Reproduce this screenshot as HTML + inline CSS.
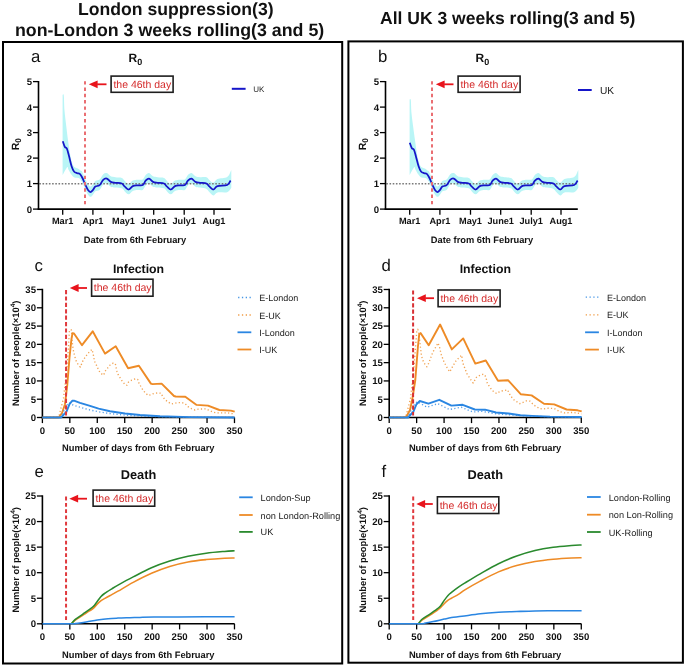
<!DOCTYPE html><html><head><meta charset="utf-8"><style>html,body{margin:0;padding:0;background:#fff;}svg{display:block;will-change:transform;}text{font-family:"Liberation Sans",sans-serif;}</style></head><body>
<svg width="685" height="666" viewBox="0 0 685 666" text-rendering="geometricPrecision">
<rect width="685" height="666" fill="#fff"/>
<text x="78.1" y="15" font-size="17.6" font-weight="bold" text-anchor="start" fill="#111">London suppression(3)</text>
<text x="15" y="35.7" font-size="17.8" font-weight="bold" text-anchor="start" fill="#111">non-London 3 weeks rolling(3 and 5)</text>
<text x="380" y="24.2" font-size="17.55" font-weight="bold" text-anchor="start" fill="#111">All UK 3 weeks rolling(3 and 5)</text>
<rect x="3" y="42" width="339.2" height="621.5" fill="none" stroke="#000" stroke-width="2"/>
<rect x="348.4" y="41.4" width="334.5" height="621.3" fill="none" stroke="#000" stroke-width="2"/>
<text x="31" y="62.3" font-size="16.8" font-weight="normal" text-anchor="start" fill="#111">a</text>
<text x="128.6" y="61.9" font-size="12" font-weight="bold" fill="#111">R<tspan font-size="9" dy="2.6">0</tspan></text>
<path d="M62.6,95  C62.8,95.1 63.48,93.02 63.8,95.6 C64.12,98.18 64.08,105.37 64.5,110.5 C64.92,115.63 65.73,121.55 66.3,126.4 C66.87,131.25 67.35,135.47 67.9,139.6 C68.45,143.73 69.05,147.9 69.6,151.2 C70.15,154.5 70.52,156.87 71.2,159.4 C71.88,161.93 72.6,164.88 73.7,166.4 C74.8,167.92 76.67,167.8 77.8,168.5 C78.93,169.2 79.77,170.03 80.5,170.6 C81.23,171.17 81.37,170.43 82.2,171.9 C83.03,173.37 84.53,177.33 85.5,179.4 C86.47,181.47 87.17,183.13 88,184.3 C88.83,185.47 89.67,186.4 90.5,186.4 C91.33,186.4 92.18,185.22 93,184.3 C93.82,183.38 94.3,181.68 95.4,180.9 C96.5,180.12 98.3,180.72 99.6,179.6 C100.9,178.48 102,175.3 103.2,174.2 C104.4,173.1 105.53,172.65 106.8,173 C108.07,173.35 109.37,175.6 110.8,176.3 C112.23,177 113.57,176.93 115.4,177.2 C117.23,177.47 120.27,177.3 121.8,177.9 C123.33,178.5 123.47,179.8 124.6,180.8 C125.73,181.8 127.23,183.95 128.6,183.9 C129.97,183.85 131.27,181.2 132.8,180.5 C134.33,179.8 136.15,179.87 137.8,179.7 C139.45,179.53 141.38,180.28 142.7,179.5 C144.02,178.72 144.65,176.08 145.7,175 C146.75,173.92 147.78,172.78 149,173 C150.22,173.22 151.57,175.6 153,176.3 C154.43,177 155.77,176.93 157.6,177.2 C159.43,177.47 162.47,177.3 164,177.9 C165.53,178.5 165.67,179.8 166.8,180.8 C167.93,181.8 169.43,183.95 170.8,183.9 C172.17,183.85 173.47,181.2 175,180.5 C176.53,179.8 178.35,179.87 180,179.7 C181.65,179.53 183.58,180.28 184.9,179.5 C186.22,178.72 186.8,176.08 187.9,175 C189,173.92 190.23,172.78 191.5,173 C192.77,173.22 194.07,175.6 195.5,176.3 C196.93,177 198.27,177.02 200.1,177.19 C201.93,177.36 204.97,176.85 206.5,177.31 C208.03,177.78 208.17,179.06 209.3,179.96 C210.43,180.86 211.93,182.88 213.3,182.7 C214.67,182.53 215.18,179.88 217.5,178.92 C219.82,177.97 224.9,178.44 227.2,176.95 C229.5,175.46 230.62,171.16 231.3,170 L231.3,187.8 C230.62,188.54 229.5,191.47 227.2,192.25 C224.9,193.03 219.82,191.93 217.5,192.47 C215.18,193.02 214.67,195.57 213.3,195.5 C211.93,195.42 210.43,193.14 209.3,192.04 C208.17,190.94 208.03,189.62 206.5,188.88 C204.97,188.15 201.93,187.97 200.1,187.61 C198.27,187.24 196.93,187.4 195.5,186.7 C194.07,186 192.77,183.62 191.5,183.4 C190.23,183.18 189,184.32 187.9,185.4 C186.8,186.48 186.22,189.12 184.9,189.9 C183.58,190.68 181.65,189.93 180,190.1 C178.35,190.27 176.53,190.2 175,190.9 C173.47,191.6 172.17,194.25 170.8,194.3 C169.43,194.35 167.93,192.2 166.8,191.2 C165.67,190.2 165.53,188.9 164,188.3 C162.47,187.7 159.43,187.87 157.6,187.6 C155.77,187.33 154.43,187.4 153,186.7 C151.57,186 150.22,183.62 149,183.4 C147.78,183.18 146.75,184.32 145.7,185.4 C144.65,186.48 144.02,189.12 142.7,189.9 C141.38,190.68 139.45,189.93 137.8,190.1 C136.15,190.27 134.33,190.2 132.8,190.9 C131.27,191.6 129.97,194.25 128.6,194.3 C127.23,194.35 125.73,192.2 124.6,191.2 C123.47,190.2 123.33,188.9 121.8,188.3 C120.27,187.7 117.23,187.87 115.4,187.6 C113.57,187.33 112.23,187.4 110.8,186.7 C109.37,186 108.07,183.75 106.8,183.4 C105.53,183.05 104.4,183.5 103.2,184.6 C102,185.7 100.9,188.88 99.6,190 C98.3,191.12 96.5,190.52 95.4,191.3 C94.3,192.08 93.82,193.78 93,194.7 C92.18,195.62 91.33,196.8 90.5,196.8 C89.67,196.8 88.83,195.87 88,194.7 C87.17,193.53 86.47,191.87 85.5,189.8 C84.53,187.73 82.92,183.77 82.2,182.3 C81.48,180.83 81.65,181.65 81.2,181 C80.75,180.35 80.62,178.97 79.5,178.4 C78.38,177.83 75.88,178.28 74.5,177.6 C73.12,176.92 72.22,175.65 71.2,174.3 C70.18,172.95 69.07,170.68 68.4,169.5 C67.73,168.32 68.17,166.27 67.2,167.2 C66.23,168.13 63.37,173.78 62.6,175.1 Z" fill="#b9f5f6"/>
<line x1="39.3" y1="183.8" x2="230.8" y2="183.8" stroke="#7a7a7a" stroke-width="1.5" stroke-dasharray="1.6 1.6"/>
<path d="M62.8,141.2 C63.15,142.17 64.22,145.77 64.9,147 C65.58,148.23 66.22,147.1 66.9,148.6 C67.58,150.1 68.23,153.1 69,156 C69.77,158.9 70.67,163.42 71.5,166 C72.33,168.58 73.03,170.3 74,171.5 C74.97,172.7 76.33,172.8 77.3,173.2 C78.27,173.6 78.98,173.18 79.8,173.9 C80.62,174.62 81.25,175.65 82.2,177.5 C83.15,179.35 84.53,182.93 85.5,185 C86.47,187.07 87.17,188.73 88,189.9 C88.83,191.07 89.67,192 90.5,192 C91.33,192 92.18,190.82 93,189.9 C93.82,188.98 94.3,187.28 95.4,186.5 C96.5,185.72 98.3,186.32 99.6,185.2 C100.9,184.08 102,180.9 103.2,179.8 C104.4,178.7 105.53,178.25 106.8,178.6 C108.07,178.95 109.37,181.2 110.8,181.9 C112.23,182.6 113.57,182.53 115.4,182.8 C117.23,183.07 120.27,182.9 121.8,183.5 C123.33,184.1 123.47,185.4 124.6,186.4 C125.73,187.4 127.23,189.55 128.6,189.5 C129.97,189.45 131.27,186.8 132.8,186.1 C134.33,185.4 136.15,185.47 137.8,185.3 C139.45,185.13 141.38,185.88 142.7,185.1 C144.02,184.32 144.65,181.68 145.7,180.6 C146.75,179.52 147.78,178.38 149,178.6 C150.22,178.82 151.57,181.2 153,181.9 C154.43,182.6 155.77,182.53 157.6,182.8 C159.43,183.07 162.47,182.9 164,183.5 C165.53,184.1 165.67,185.4 166.8,186.4 C167.93,187.4 169.43,189.55 170.8,189.5 C172.17,189.45 173.47,186.8 175,186.1 C176.53,185.4 178.35,185.47 180,185.3 C181.65,185.13 183.58,185.88 184.9,185.1 C186.22,184.32 186.8,181.68 187.9,180.6 C189,179.52 190.23,178.38 191.5,178.6 C192.77,178.82 194.07,181.2 195.5,181.9 C196.93,182.6 198.27,182.53 200.1,182.8 C201.93,183.07 204.97,182.9 206.5,183.5 C208.03,184.1 208.17,185.4 209.3,186.4 C210.43,187.4 211.93,189.55 213.3,189.5 C214.67,189.45 215.18,186.85 217.5,186.1 C219.82,185.35 225.02,185.95 227.2,185 C229.38,184.05 230.03,181.17 230.6,180.4" fill="none" stroke="#1515c9" stroke-width="1.75" stroke-linejoin="round"/>
<line x1="38.5" y1="81" x2="38.5" y2="209.9" stroke="#000" stroke-width="1.6"/>
<line x1="33" y1="209.1" x2="38.5" y2="209.1" stroke="#000" stroke-width="1.3"/>
<text x="32.1" y="212.5" font-size="9.6" font-weight="bold" text-anchor="end" fill="#111">0</text>
<line x1="33" y1="183.6" x2="38.5" y2="183.6" stroke="#000" stroke-width="1.3"/>
<text x="32.1" y="187" font-size="9.6" font-weight="bold" text-anchor="end" fill="#111">1</text>
<line x1="33" y1="158.1" x2="38.5" y2="158.1" stroke="#000" stroke-width="1.3"/>
<text x="32.1" y="161.5" font-size="9.6" font-weight="bold" text-anchor="end" fill="#111">2</text>
<line x1="33" y1="132.6" x2="38.5" y2="132.6" stroke="#000" stroke-width="1.3"/>
<text x="32.1" y="136" font-size="9.6" font-weight="bold" text-anchor="end" fill="#111">3</text>
<line x1="33" y1="107.1" x2="38.5" y2="107.1" stroke="#000" stroke-width="1.3"/>
<text x="32.1" y="110.5" font-size="9.6" font-weight="bold" text-anchor="end" fill="#111">4</text>
<line x1="33" y1="81.6" x2="38.5" y2="81.6" stroke="#000" stroke-width="1.3"/>
<text x="32.1" y="85" font-size="9.6" font-weight="bold" text-anchor="end" fill="#111">5</text>
<line x1="37.7" y1="209.1" x2="230.8" y2="209.1" stroke="#000" stroke-width="1.6"/>
<line x1="62.7" y1="209.1" x2="62.7" y2="214.7" stroke="#000" stroke-width="1.3"/>
<text x="62.7" y="224.2" font-size="9.2" font-weight="bold" text-anchor="middle" fill="#111">Mar1</text>
<line x1="92.9" y1="209.1" x2="92.9" y2="214.7" stroke="#000" stroke-width="1.3"/>
<text x="92.9" y="224.2" font-size="9.2" font-weight="bold" text-anchor="middle" fill="#111">Apr1</text>
<line x1="123.5" y1="209.1" x2="123.5" y2="214.7" stroke="#000" stroke-width="1.3"/>
<text x="123.5" y="224.2" font-size="9.2" font-weight="bold" text-anchor="middle" fill="#111">May1</text>
<line x1="153.7" y1="209.1" x2="153.7" y2="214.7" stroke="#000" stroke-width="1.3"/>
<text x="153.7" y="224.2" font-size="9.2" font-weight="bold" text-anchor="middle" fill="#111">June1</text>
<line x1="184.2" y1="209.1" x2="184.2" y2="214.7" stroke="#000" stroke-width="1.3"/>
<text x="184.2" y="224.2" font-size="9.2" font-weight="bold" text-anchor="middle" fill="#111">July1</text>
<line x1="214" y1="209.1" x2="214" y2="214.7" stroke="#000" stroke-width="1.3"/>
<text x="214" y="224.2" font-size="9.2" font-weight="bold" text-anchor="middle" fill="#111">Aug1</text>
<text x="135" y="243.2" font-size="9.3" font-weight="bold" text-anchor="middle" fill="#111">Date from 6th February</text>
<text transform="translate(19.2,144.2) rotate(-90)" font-size="10.5" font-weight="bold" text-anchor="middle" fill="#111">R<tspan font-size="8.3" dy="1.3">0</tspan></text>
<line x1="85" y1="81.2" x2="85" y2="206.5" stroke="#ea6e72" stroke-width="2" stroke-dasharray="3.4 2.9"/>
<path d="M88.8,84.3 L97.6,80.4 L97.6,88.2 Z" fill="#e8141c"/>
<line x1="97.1" y1="84.3" x2="106.5" y2="84.3" stroke="#e8141c" stroke-width="1.8"/>
<rect x="111.1" y="76.1" width="62" height="16.2" fill="#fff" stroke="#1e1e1e" stroke-width="1.6"/>
<text x="113.4" y="87.9" font-size="10.5" font-weight="normal" text-anchor="start" fill="#d42a2a">the 46th day</text>
<line x1="231.8" y1="88.8" x2="245.6" y2="88.8" stroke="#1515c9" stroke-width="2"/>
<text x="253.3" y="91.8" font-size="8" font-weight="normal" text-anchor="start" fill="#222">UK</text>
<text x="378" y="62.3" font-size="16.8" font-weight="normal" text-anchor="start" fill="#111">b</text>
<text x="475.6" y="61.9" font-size="12" font-weight="bold" fill="#111">R<tspan font-size="9" dy="2.6">0</tspan></text>
<path d="M409.6,99.5  C409.8,99.6 410.48,97.82 410.8,100.1 C411.12,102.38 411.08,108.59 411.5,113.2 C411.92,117.81 412.73,123.35 413.3,127.75 C413.87,132.15 414.35,135.69 414.9,139.6 C415.45,143.51 416.05,147.9 416.6,151.2 C417.15,154.5 417.52,156.87 418.2,159.4 C418.88,161.93 419.6,164.88 420.7,166.4 C421.8,167.92 423.67,167.8 424.8,168.5 C425.93,169.2 426.77,170.03 427.5,170.6 C428.23,171.17 428.37,170.43 429.2,171.9 C430.03,173.37 431.53,177.33 432.5,179.4 C433.47,181.47 434.17,183.13 435,184.3 C435.83,185.47 436.67,186.4 437.5,186.4 C438.33,186.4 439.18,185.22 440,184.3 C440.82,183.38 441.3,181.68 442.4,180.9 C443.5,180.12 445.3,180.72 446.6,179.6 C447.9,178.48 449,175.3 450.2,174.2 C451.4,173.1 452.53,172.65 453.8,173 C455.07,173.35 456.37,175.6 457.8,176.3 C459.23,177 460.57,176.93 462.4,177.2 C464.23,177.47 467.27,177.3 468.8,177.9 C470.33,178.5 470.47,179.8 471.6,180.8 C472.73,181.8 474.23,183.95 475.6,183.9 C476.97,183.85 478.27,181.2 479.8,180.5 C481.33,179.8 483.15,179.87 484.8,179.7 C486.45,179.53 488.38,180.28 489.7,179.5 C491.02,178.72 491.65,176.08 492.7,175 C493.75,173.92 494.78,172.78 496,173 C497.22,173.22 498.57,175.6 500,176.3 C501.43,177 502.77,176.93 504.6,177.2 C506.43,177.47 509.47,177.3 511,177.9 C512.53,178.5 512.67,179.8 513.8,180.8 C514.93,181.8 516.43,183.95 517.8,183.9 C519.17,183.85 520.47,181.2 522,180.5 C523.53,179.8 525.35,179.87 527,179.7 C528.65,179.53 530.58,180.28 531.9,179.5 C533.22,178.72 533.8,176.08 534.9,175 C536,173.92 537.23,172.78 538.5,173 C539.77,173.22 541.07,175.6 542.5,176.3 C543.93,177 545.27,177.02 547.1,177.19 C548.93,177.36 551.97,176.85 553.5,177.31 C555.03,177.78 555.17,179.06 556.3,179.96 C557.43,180.86 558.93,182.88 560.3,182.7 C561.67,182.53 562.18,179.88 564.5,178.92 C566.82,177.97 571.9,178.44 574.2,176.95 C576.5,175.46 577.62,171.16 578.3,170 L578.3,187.8 C577.62,188.54 576.5,191.47 574.2,192.25 C571.9,193.03 566.82,191.93 564.5,192.47 C562.18,193.02 561.67,195.57 560.3,195.5 C558.93,195.42 557.43,193.14 556.3,192.04 C555.17,190.94 555.03,189.62 553.5,188.88 C551.97,188.15 548.93,187.97 547.1,187.61 C545.27,187.24 543.93,187.4 542.5,186.7 C541.07,186 539.77,183.62 538.5,183.4 C537.23,183.18 536,184.32 534.9,185.4 C533.8,186.48 533.22,189.12 531.9,189.9 C530.58,190.68 528.65,189.93 527,190.1 C525.35,190.27 523.53,190.2 522,190.9 C520.47,191.6 519.17,194.25 517.8,194.3 C516.43,194.35 514.93,192.2 513.8,191.2 C512.67,190.2 512.53,188.9 511,188.3 C509.47,187.7 506.43,187.87 504.6,187.6 C502.77,187.33 501.43,187.4 500,186.7 C498.57,186 497.22,183.62 496,183.4 C494.78,183.18 493.75,184.32 492.7,185.4 C491.65,186.48 491.02,189.12 489.7,189.9 C488.38,190.68 486.45,189.93 484.8,190.1 C483.15,190.27 481.33,190.2 479.8,190.9 C478.27,191.6 476.97,194.25 475.6,194.3 C474.23,194.35 472.73,192.2 471.6,191.2 C470.47,190.2 470.33,188.9 468.8,188.3 C467.27,187.7 464.23,187.87 462.4,187.6 C460.57,187.33 459.23,187.4 457.8,186.7 C456.37,186 455.07,183.75 453.8,183.4 C452.53,183.05 451.4,183.5 450.2,184.6 C449,185.7 447.9,188.88 446.6,190 C445.3,191.12 443.5,190.52 442.4,191.3 C441.3,192.08 440.82,193.78 440,194.7 C439.18,195.62 438.33,196.8 437.5,196.8 C436.67,196.8 435.83,195.87 435,194.7 C434.17,193.53 433.47,191.87 432.5,189.8 C431.53,187.73 429.92,183.77 429.2,182.3 C428.48,180.83 428.65,181.65 428.2,181 C427.75,180.35 427.62,178.97 426.5,178.4 C425.38,177.83 422.88,178.28 421.5,177.6 C420.12,176.92 419.22,175.65 418.2,174.3 C417.18,172.95 416.07,170.68 415.4,169.5 C414.73,168.32 415.17,166.27 414.2,167.2 C413.23,168.13 410.37,173.78 409.6,175.1 Z" fill="#b9f5f6"/>
<line x1="386.3" y1="183.8" x2="577.8" y2="183.8" stroke="#7a7a7a" stroke-width="1.5" stroke-dasharray="1.6 1.6"/>
<path d="M409.8,142.8 C410.15,143.71 411.22,147.15 411.9,148.28 C412.58,149.41 413.22,148.17 413.9,149.56 C414.58,150.95 415.23,153.9 416,156.64 C416.77,159.38 417.67,163.52 418.5,166 C419.33,168.48 420.03,170.3 421,171.5 C421.97,172.7 423.33,172.8 424.3,173.2 C425.27,173.6 425.98,173.18 426.8,173.9 C427.62,174.62 428.25,175.65 429.2,177.5 C430.15,179.35 431.53,182.93 432.5,185 C433.47,187.07 434.17,188.73 435,189.9 C435.83,191.07 436.67,192 437.5,192 C438.33,192 439.18,190.82 440,189.9 C440.82,188.98 441.3,187.28 442.4,186.5 C443.5,185.72 445.3,186.32 446.6,185.2 C447.9,184.08 449,180.9 450.2,179.8 C451.4,178.7 452.53,178.25 453.8,178.6 C455.07,178.95 456.37,181.2 457.8,181.9 C459.23,182.6 460.57,182.53 462.4,182.8 C464.23,183.07 467.27,182.9 468.8,183.5 C470.33,184.1 470.47,185.4 471.6,186.4 C472.73,187.4 474.23,189.55 475.6,189.5 C476.97,189.45 478.27,186.8 479.8,186.1 C481.33,185.4 483.15,185.47 484.8,185.3 C486.45,185.13 488.38,185.88 489.7,185.1 C491.02,184.32 491.65,181.68 492.7,180.6 C493.75,179.52 494.78,178.38 496,178.6 C497.22,178.82 498.57,181.2 500,181.9 C501.43,182.6 502.77,182.53 504.6,182.8 C506.43,183.07 509.47,182.9 511,183.5 C512.53,184.1 512.67,185.4 513.8,186.4 C514.93,187.4 516.43,189.55 517.8,189.5 C519.17,189.45 520.47,186.8 522,186.1 C523.53,185.4 525.35,185.47 527,185.3 C528.65,185.13 530.58,185.88 531.9,185.1 C533.22,184.32 533.8,181.68 534.9,180.6 C536,179.52 537.23,178.38 538.5,178.6 C539.77,178.82 541.07,181.2 542.5,181.9 C543.93,182.6 545.27,182.53 547.1,182.8 C548.93,183.07 551.97,182.9 553.5,183.5 C555.03,184.1 555.17,185.4 556.3,186.4 C557.43,187.4 558.93,189.55 560.3,189.5 C561.67,189.45 562.18,186.85 564.5,186.1 C566.82,185.35 572.02,185.95 574.2,185 C576.38,184.05 577.03,181.17 577.6,180.4" fill="none" stroke="#1515c9" stroke-width="1.75" stroke-linejoin="round"/>
<line x1="385.5" y1="81" x2="385.5" y2="209.9" stroke="#000" stroke-width="1.6"/>
<line x1="380" y1="209.1" x2="385.5" y2="209.1" stroke="#000" stroke-width="1.3"/>
<text x="379.1" y="212.5" font-size="9.6" font-weight="bold" text-anchor="end" fill="#111">0</text>
<line x1="380" y1="183.6" x2="385.5" y2="183.6" stroke="#000" stroke-width="1.3"/>
<text x="379.1" y="187" font-size="9.6" font-weight="bold" text-anchor="end" fill="#111">1</text>
<line x1="380" y1="158.1" x2="385.5" y2="158.1" stroke="#000" stroke-width="1.3"/>
<text x="379.1" y="161.5" font-size="9.6" font-weight="bold" text-anchor="end" fill="#111">2</text>
<line x1="380" y1="132.6" x2="385.5" y2="132.6" stroke="#000" stroke-width="1.3"/>
<text x="379.1" y="136" font-size="9.6" font-weight="bold" text-anchor="end" fill="#111">3</text>
<line x1="380" y1="107.1" x2="385.5" y2="107.1" stroke="#000" stroke-width="1.3"/>
<text x="379.1" y="110.5" font-size="9.6" font-weight="bold" text-anchor="end" fill="#111">4</text>
<line x1="380" y1="81.6" x2="385.5" y2="81.6" stroke="#000" stroke-width="1.3"/>
<text x="379.1" y="85" font-size="9.6" font-weight="bold" text-anchor="end" fill="#111">5</text>
<line x1="384.7" y1="209.1" x2="577.8" y2="209.1" stroke="#000" stroke-width="1.6"/>
<line x1="409.7" y1="209.1" x2="409.7" y2="214.7" stroke="#000" stroke-width="1.3"/>
<text x="409.7" y="224.2" font-size="9.2" font-weight="bold" text-anchor="middle" fill="#111">Mar1</text>
<line x1="439.9" y1="209.1" x2="439.9" y2="214.7" stroke="#000" stroke-width="1.3"/>
<text x="439.9" y="224.2" font-size="9.2" font-weight="bold" text-anchor="middle" fill="#111">Apr1</text>
<line x1="470.5" y1="209.1" x2="470.5" y2="214.7" stroke="#000" stroke-width="1.3"/>
<text x="470.5" y="224.2" font-size="9.2" font-weight="bold" text-anchor="middle" fill="#111">May1</text>
<line x1="500.7" y1="209.1" x2="500.7" y2="214.7" stroke="#000" stroke-width="1.3"/>
<text x="500.7" y="224.2" font-size="9.2" font-weight="bold" text-anchor="middle" fill="#111">June1</text>
<line x1="531.2" y1="209.1" x2="531.2" y2="214.7" stroke="#000" stroke-width="1.3"/>
<text x="531.2" y="224.2" font-size="9.2" font-weight="bold" text-anchor="middle" fill="#111">July1</text>
<line x1="561" y1="209.1" x2="561" y2="214.7" stroke="#000" stroke-width="1.3"/>
<text x="561" y="224.2" font-size="9.2" font-weight="bold" text-anchor="middle" fill="#111">Aug1</text>
<text x="482" y="243.2" font-size="9.3" font-weight="bold" text-anchor="middle" fill="#111">Date from 6th February</text>
<text transform="translate(366.2,144.2) rotate(-90)" font-size="10.5" font-weight="bold" text-anchor="middle" fill="#111">R<tspan font-size="8.3" dy="1.3">0</tspan></text>
<line x1="432" y1="81.2" x2="432" y2="206.5" stroke="#ea6e72" stroke-width="2" stroke-dasharray="3.4 2.9"/>
<path d="M435.8,84.3 L444.6,80.4 L444.6,88.2 Z" fill="#e8141c"/>
<line x1="444.1" y1="84.3" x2="453.5" y2="84.3" stroke="#e8141c" stroke-width="1.8"/>
<rect x="458.1" y="76.1" width="62" height="16.2" fill="#fff" stroke="#1e1e1e" stroke-width="1.6"/>
<text x="460.4" y="87.9" font-size="10.5" font-weight="normal" text-anchor="start" fill="#d42a2a">the 46th day</text>
<line x1="578" y1="90" x2="591.7" y2="90" stroke="#1515c9" stroke-width="2"/>
<text x="600" y="93.5" font-size="10.2" font-weight="normal" text-anchor="start" fill="#222">UK</text>
<text x="34.6" y="271" font-size="16.8" font-weight="normal" text-anchor="start" fill="#111">c</text>
<text x="138.5" y="273.1" font-size="12.3" font-weight="bold" text-anchor="middle" fill="#111">Infection</text>
<line x1="42.4" y1="288.8" x2="42.4" y2="418.3" stroke="#000" stroke-width="1.6"/>
<line x1="36.9" y1="417.5" x2="42.4" y2="417.5" stroke="#000" stroke-width="1.3"/>
<text x="36" y="420.9" font-size="9.6" font-weight="bold" text-anchor="end" fill="#111">0</text>
<line x1="36.9" y1="399.21" x2="42.4" y2="399.21" stroke="#000" stroke-width="1.3"/>
<text x="36" y="402.61" font-size="9.6" font-weight="bold" text-anchor="end" fill="#111">5</text>
<line x1="36.9" y1="380.93" x2="42.4" y2="380.93" stroke="#000" stroke-width="1.3"/>
<text x="36" y="384.33" font-size="9.6" font-weight="bold" text-anchor="end" fill="#111">10</text>
<line x1="36.9" y1="362.64" x2="42.4" y2="362.64" stroke="#000" stroke-width="1.3"/>
<text x="36" y="366.04" font-size="9.6" font-weight="bold" text-anchor="end" fill="#111">15</text>
<line x1="36.9" y1="344.36" x2="42.4" y2="344.36" stroke="#000" stroke-width="1.3"/>
<text x="36" y="347.76" font-size="9.6" font-weight="bold" text-anchor="end" fill="#111">20</text>
<line x1="36.9" y1="326.07" x2="42.4" y2="326.07" stroke="#000" stroke-width="1.3"/>
<text x="36" y="329.47" font-size="9.6" font-weight="bold" text-anchor="end" fill="#111">25</text>
<line x1="36.9" y1="307.79" x2="42.4" y2="307.79" stroke="#000" stroke-width="1.3"/>
<text x="36" y="311.19" font-size="9.6" font-weight="bold" text-anchor="end" fill="#111">30</text>
<line x1="36.9" y1="289.5" x2="42.4" y2="289.5" stroke="#000" stroke-width="1.3"/>
<text x="36" y="292.9" font-size="9.6" font-weight="bold" text-anchor="end" fill="#111">35</text>
<line x1="41.6" y1="417.5" x2="234.6" y2="417.5" stroke="#000" stroke-width="1.6"/>
<line x1="42.4" y1="417.5" x2="42.4" y2="423.1" stroke="#000" stroke-width="1.3"/>
<text x="42.4" y="433.9" font-size="9.6" font-weight="bold" text-anchor="middle" fill="#111">0</text>
<line x1="69.84" y1="417.5" x2="69.84" y2="423.1" stroke="#000" stroke-width="1.3"/>
<text x="69.84" y="433.9" font-size="9.6" font-weight="bold" text-anchor="middle" fill="#111">50</text>
<line x1="97.28" y1="417.5" x2="97.28" y2="423.1" stroke="#000" stroke-width="1.3"/>
<text x="97.28" y="433.9" font-size="9.6" font-weight="bold" text-anchor="middle" fill="#111">100</text>
<line x1="124.72" y1="417.5" x2="124.72" y2="423.1" stroke="#000" stroke-width="1.3"/>
<text x="124.72" y="433.9" font-size="9.6" font-weight="bold" text-anchor="middle" fill="#111">150</text>
<line x1="152.16" y1="417.5" x2="152.16" y2="423.1" stroke="#000" stroke-width="1.3"/>
<text x="152.16" y="433.9" font-size="9.6" font-weight="bold" text-anchor="middle" fill="#111">200</text>
<line x1="179.6" y1="417.5" x2="179.6" y2="423.1" stroke="#000" stroke-width="1.3"/>
<text x="179.6" y="433.9" font-size="9.6" font-weight="bold" text-anchor="middle" fill="#111">250</text>
<line x1="207.04" y1="417.5" x2="207.04" y2="423.1" stroke="#000" stroke-width="1.3"/>
<text x="207.04" y="433.9" font-size="9.6" font-weight="bold" text-anchor="middle" fill="#111">300</text>
<line x1="234.48" y1="417.5" x2="234.48" y2="423.1" stroke="#000" stroke-width="1.3"/>
<text x="234.48" y="433.9" font-size="9.6" font-weight="bold" text-anchor="middle" fill="#111">350</text>
<text x="138.3" y="451.4" font-size="9.3" font-weight="bold" text-anchor="middle" fill="#111">Number of days from 6th February</text>
<text transform="translate(19.3,353.3) rotate(-90)" font-size="9.4" font-weight="bold" text-anchor="middle" fill="#111">Number of people(×10<tspan font-size="6.6" dy="-4.0">4</tspan><tspan dy="4.0">)</tspan></text>
<path d="M42.5,417.5 L56,417.5 L59,416.2 L63.5,398.2 L66.5,372.6 L68.3,350 L69.5,330 L71.5,330 L72.5,344.8 L73.7,352.3 L75.8,360.1 L77.4,363.4 L80.3,367.1 L83.2,360.1 L87.8,353.5 L91.9,349.4 L93.1,353.5 L94.4,361 L96,364.3 L99.3,371.3 L102.1,374.3 L103.7,375.1 L105,371.4 L109.9,365.2 L113.2,363.1 L115.3,363.6 L116.9,371.2 L118.2,374.7 L122.3,381.3 L124.8,384.2 L126.9,385.3 L128.5,382.1 L131.8,380.1 L135.5,378.7 L137.7,379.4 L138.9,383.1 L143,390.2 L145.5,393.1 L148.4,395.5 L150.9,394.7 L153.8,393.5 L157.7,392.9 L161.2,393.2 L162.6,396.4 L165.1,399.7 L168.2,402.1 L171.4,404 L174.4,403.4 L178.1,402.6 L181.9,402.6 L185.3,403.8 L187.9,406.6 L191.4,408.6 L194.9,410 L198.4,409.1 L206.1,408.8 L209.3,410.6 L212.8,411.9 L216.3,412.9 L228,412.9 L231.7,413.5 L234.6,413.8" fill="none" stroke="#ee8b26" stroke-width="1.35" stroke-linejoin="round" stroke-dasharray="1.2 2.3" opacity="0.8"/>
<path d="M42.5,417.5 L57,417.5 L59,417.2 L62,413 L65,404.2 L67.3,384.7 L69.5,357.6 L71.4,339.5 L72.5,333.2 L74,333.5 L82,345.2 L92.7,331.3 L105,353.6 L115.7,346.3 L128.1,368.3 L138.9,365.8 L150.9,383.6 L152.5,384.1 L161.6,383.6 L174,396 L175.7,396.5 L185.3,396.8 L196.6,404.9 L208,405.6 L219.4,410 L230.8,410.6 L234.7,411.7" fill="none" stroke="#ee8b26" stroke-width="1.9" stroke-linejoin="round"/>
<path d="M42.5,417.5 L60,417.3 L62,414.7 L66.5,405.7 L68.8,402.7 L74,405.5 L90,410 L98.6,411.8 L110,413.6 L130,415.6 L160,416.8 L234.6,417.5" fill="none" stroke="#2a86e2" stroke-width="1.35" stroke-linejoin="round" stroke-dasharray="1.2 2.3" opacity="0.8"/>
<path d="M42.5,417.5 L61,417.5 L66.5,411.7 L69.5,404.2 L72.2,400.8 L74,400.6 L80,402.8 L90,405.8 L98.6,408.6 L110,411.2 L125,413.5 L140,415 L160,416.3 L190,417.1 L234.6,417.5" fill="none" stroke="#2a86e2" stroke-width="1.9" stroke-linejoin="round"/>
<line x1="66.05" y1="290" x2="66.05" y2="415.5" stroke="#e0393d" stroke-width="2" stroke-dasharray="4.2 2.2"/>
<path d="M69.8,288 L78.6,284.1 L78.6,291.9 Z" fill="#e8141c"/>
<line x1="78.1" y1="288" x2="87" y2="288" stroke="#e8141c" stroke-width="1.8"/>
<rect x="91.6" y="279.2" width="61.4" height="17" fill="#fff" stroke="#1e1e1e" stroke-width="1.6"/>
<text x="93.8" y="291" font-size="10.5" font-weight="normal" text-anchor="start" fill="#d42a2a">the 46th day</text>
<line x1="238.1" y1="297.5" x2="251.3" y2="297.5" stroke="#2a86e2" stroke-width="1.4" stroke-dasharray="1.3 2.5" opacity="0.85"/>
<text x="259.2" y="301" font-size="9.0" font-weight="normal" text-anchor="start" fill="#222">E-London</text>
<line x1="238.1" y1="315" x2="251.3" y2="315" stroke="#ee8b26" stroke-width="1.4" stroke-dasharray="1.3 2.5" opacity="0.85"/>
<text x="259.2" y="318.5" font-size="9.0" font-weight="normal" text-anchor="start" fill="#222">E-UK</text>
<line x1="237.5" y1="332.3" x2="251.3" y2="332.3" stroke="#2a86e2" stroke-width="1.8"/>
<text x="259.2" y="335.8" font-size="9.0" font-weight="normal" text-anchor="start" fill="#222">I-London</text>
<line x1="237.5" y1="349.5" x2="251.3" y2="349.5" stroke="#ee8b26" stroke-width="1.8"/>
<text x="259.2" y="353" font-size="9.0" font-weight="normal" text-anchor="start" fill="#222">I-UK</text>
<text x="381.4" y="271" font-size="16.8" font-weight="normal" text-anchor="start" fill="#111">d</text>
<text x="485.3" y="273.1" font-size="12.3" font-weight="bold" text-anchor="middle" fill="#111">Infection</text>
<line x1="389.2" y1="288.8" x2="389.2" y2="418.3" stroke="#000" stroke-width="1.6"/>
<line x1="383.7" y1="417.5" x2="389.2" y2="417.5" stroke="#000" stroke-width="1.3"/>
<text x="382.8" y="420.9" font-size="9.6" font-weight="bold" text-anchor="end" fill="#111">0</text>
<line x1="383.7" y1="399.21" x2="389.2" y2="399.21" stroke="#000" stroke-width="1.3"/>
<text x="382.8" y="402.61" font-size="9.6" font-weight="bold" text-anchor="end" fill="#111">5</text>
<line x1="383.7" y1="380.93" x2="389.2" y2="380.93" stroke="#000" stroke-width="1.3"/>
<text x="382.8" y="384.33" font-size="9.6" font-weight="bold" text-anchor="end" fill="#111">10</text>
<line x1="383.7" y1="362.64" x2="389.2" y2="362.64" stroke="#000" stroke-width="1.3"/>
<text x="382.8" y="366.04" font-size="9.6" font-weight="bold" text-anchor="end" fill="#111">15</text>
<line x1="383.7" y1="344.36" x2="389.2" y2="344.36" stroke="#000" stroke-width="1.3"/>
<text x="382.8" y="347.76" font-size="9.6" font-weight="bold" text-anchor="end" fill="#111">20</text>
<line x1="383.7" y1="326.07" x2="389.2" y2="326.07" stroke="#000" stroke-width="1.3"/>
<text x="382.8" y="329.47" font-size="9.6" font-weight="bold" text-anchor="end" fill="#111">25</text>
<line x1="383.7" y1="307.79" x2="389.2" y2="307.79" stroke="#000" stroke-width="1.3"/>
<text x="382.8" y="311.19" font-size="9.6" font-weight="bold" text-anchor="end" fill="#111">30</text>
<line x1="383.7" y1="289.5" x2="389.2" y2="289.5" stroke="#000" stroke-width="1.3"/>
<text x="382.8" y="292.9" font-size="9.6" font-weight="bold" text-anchor="end" fill="#111">35</text>
<line x1="388.4" y1="417.5" x2="581.4" y2="417.5" stroke="#000" stroke-width="1.6"/>
<line x1="389.2" y1="417.5" x2="389.2" y2="423.1" stroke="#000" stroke-width="1.3"/>
<text x="389.2" y="433.9" font-size="9.6" font-weight="bold" text-anchor="middle" fill="#111">0</text>
<line x1="416.64" y1="417.5" x2="416.64" y2="423.1" stroke="#000" stroke-width="1.3"/>
<text x="416.64" y="433.9" font-size="9.6" font-weight="bold" text-anchor="middle" fill="#111">50</text>
<line x1="444.08" y1="417.5" x2="444.08" y2="423.1" stroke="#000" stroke-width="1.3"/>
<text x="444.08" y="433.9" font-size="9.6" font-weight="bold" text-anchor="middle" fill="#111">100</text>
<line x1="471.52" y1="417.5" x2="471.52" y2="423.1" stroke="#000" stroke-width="1.3"/>
<text x="471.52" y="433.9" font-size="9.6" font-weight="bold" text-anchor="middle" fill="#111">150</text>
<line x1="498.96" y1="417.5" x2="498.96" y2="423.1" stroke="#000" stroke-width="1.3"/>
<text x="498.96" y="433.9" font-size="9.6" font-weight="bold" text-anchor="middle" fill="#111">200</text>
<line x1="526.4" y1="417.5" x2="526.4" y2="423.1" stroke="#000" stroke-width="1.3"/>
<text x="526.4" y="433.9" font-size="9.6" font-weight="bold" text-anchor="middle" fill="#111">250</text>
<line x1="553.84" y1="417.5" x2="553.84" y2="423.1" stroke="#000" stroke-width="1.3"/>
<text x="553.84" y="433.9" font-size="9.6" font-weight="bold" text-anchor="middle" fill="#111">300</text>
<line x1="581.28" y1="417.5" x2="581.28" y2="423.1" stroke="#000" stroke-width="1.3"/>
<text x="581.28" y="433.9" font-size="9.6" font-weight="bold" text-anchor="middle" fill="#111">350</text>
<text x="485.1" y="451.4" font-size="9.3" font-weight="bold" text-anchor="middle" fill="#111">Number of days from 6th February</text>
<text transform="translate(366.1,353.3) rotate(-90)" font-size="9.4" font-weight="bold" text-anchor="middle" fill="#111">Number of people(×10<tspan font-size="6.6" dy="-4.0">4</tspan><tspan dy="4.0">)</tspan></text>
<path d="M389.3,417.5 L403,417.5 L406,416.2 L410.5,398.5 L413.5,373 L415.3,350 L416.8,331 L417.8,329.3 L418.8,333.1 L419.7,340.7 L420.6,348.8 L421.5,356 L422.8,360.1 L424.2,363.2 L426.9,366.8 L428.7,363.2 L432.7,352.4 L436.3,346.1 L438.1,343 L439.5,347 L441.3,354.7 L444,361.9 L447.6,368.6 L449.8,371.8 L452.2,367.3 L455.9,361 L458.5,358.2 L461.7,355.2 L462.7,362.6 L464.3,366.8 L466.9,373.6 L470.6,379.4 L473.2,383 L476.4,377.3 L480,375.2 L483.7,374.1 L485.8,376.7 L487.4,383.6 L490,387.2 L492.1,390.4 L496.6,393.5 L500.2,391.3 L507.5,389.8 L510.4,395.7 L514.1,400 L519.9,403.7 L526.5,400.8 L530.1,401.2 L533.8,405.1 L539.6,408.5 L542.6,409.1 L548.4,408.2 L554.2,408.5 L560,411.7 L564.5,412.9 L573.2,412.4 L579.8,413.5 L581.6,413.9" fill="none" stroke="#ee8b26" stroke-width="1.35" stroke-linejoin="round" stroke-dasharray="1.2 2.3" opacity="0.8"/>
<path d="M389.3,417.5 L404,417.5 L406.5,416.5 L410,410 L412.5,398 L415.3,380 L417.9,347 L419.2,334.4 L420.6,333.1 L428.7,345.2 L440.1,324.5 L451.8,349.4 L463.2,338.4 L475.3,363.6 L485.8,360.5 L498,380.8 L508.2,380.3 L520.7,394.2 L531.6,395.4 L544,403.7 L554.2,404.4 L566.6,409.5 L577.6,410.3 L581.7,411.4" fill="none" stroke="#ee8b26" stroke-width="1.9" stroke-linejoin="round"/>
<path d="M389.3,417.5 L407,417.3 L409,414.7 L413.5,405.7 L417.2,401.7 L427,407.2 L437.7,403.7 L449.5,409.5 L461.2,407.2 L472.9,412 L481.7,411.3 L496,413.8 L510,414.8 L530,416.2 L555,416.9 L581.6,417.2" fill="none" stroke="#2a86e2" stroke-width="1.35" stroke-linejoin="round" stroke-dasharray="1.2 2.3" opacity="0.8"/>
<path d="M389.3,417.5 L408,417.5 L413.5,411.5 L416.5,404.2 L419.8,401 L428.4,403.7 L439.3,399.8 L451.4,405.6 L462.7,404.8 L474.8,409.5 L485,409.7 L496,412.5 L508.6,413.5 L520.3,415.2 L532.1,415.9 L550,416.6 L581.6,417" fill="none" stroke="#2a86e2" stroke-width="1.9" stroke-linejoin="round"/>
<line x1="413.1" y1="290.4" x2="413.1" y2="415.5" stroke="#d83034" stroke-width="2" stroke-dasharray="4.2 2.2"/>
<path d="M417,298.2 L425.8,294.3 L425.8,302.1 Z" fill="#e8141c"/>
<line x1="425.3" y1="298.2" x2="434" y2="298.2" stroke="#e8141c" stroke-width="1.8"/>
<rect x="438.1" y="290" width="62" height="16.7" fill="#fff" stroke="#1e1e1e" stroke-width="1.6"/>
<text x="440.4" y="301.9" font-size="10.5" font-weight="normal" text-anchor="start" fill="#d42a2a">the 46th day</text>
<line x1="585.7" y1="297.1" x2="598.9" y2="297.1" stroke="#2a86e2" stroke-width="1.4" stroke-dasharray="1.3 2.5" opacity="0.85"/>
<text x="606.9" y="300.6" font-size="9.0" font-weight="normal" text-anchor="start" fill="#222">E-London</text>
<line x1="585.7" y1="314.9" x2="598.9" y2="314.9" stroke="#ee8b26" stroke-width="1.4" stroke-dasharray="1.3 2.5" opacity="0.85"/>
<text x="606.9" y="318.4" font-size="9.0" font-weight="normal" text-anchor="start" fill="#222">E-UK</text>
<line x1="585.1" y1="332.3" x2="598.9" y2="332.3" stroke="#2a86e2" stroke-width="1.8"/>
<text x="606.9" y="335.8" font-size="9.0" font-weight="normal" text-anchor="start" fill="#222">I-London</text>
<line x1="585.1" y1="349.6" x2="598.9" y2="349.6" stroke="#ee8b26" stroke-width="1.8"/>
<text x="606.9" y="353.1" font-size="9.0" font-weight="normal" text-anchor="start" fill="#222">I-UK</text>
<text x="34.6" y="477.3" font-size="16.8" font-weight="normal" text-anchor="start" fill="#111">e</text>
<text x="138.5" y="479.3" font-size="12.8" font-weight="bold" text-anchor="middle" fill="#111">Death</text>
<line x1="42.4" y1="495.3" x2="42.4" y2="624.6" stroke="#000" stroke-width="1.6"/>
<line x1="36.9" y1="623.8" x2="42.4" y2="623.8" stroke="#000" stroke-width="1.3"/>
<text x="36" y="627.2" font-size="9.6" font-weight="bold" text-anchor="end" fill="#111">0</text>
<line x1="36.9" y1="598.24" x2="42.4" y2="598.24" stroke="#000" stroke-width="1.3"/>
<text x="36" y="601.64" font-size="9.6" font-weight="bold" text-anchor="end" fill="#111">5</text>
<line x1="36.9" y1="572.68" x2="42.4" y2="572.68" stroke="#000" stroke-width="1.3"/>
<text x="36" y="576.08" font-size="9.6" font-weight="bold" text-anchor="end" fill="#111">10</text>
<line x1="36.9" y1="547.12" x2="42.4" y2="547.12" stroke="#000" stroke-width="1.3"/>
<text x="36" y="550.52" font-size="9.6" font-weight="bold" text-anchor="end" fill="#111">15</text>
<line x1="36.9" y1="521.56" x2="42.4" y2="521.56" stroke="#000" stroke-width="1.3"/>
<text x="36" y="524.96" font-size="9.6" font-weight="bold" text-anchor="end" fill="#111">20</text>
<line x1="36.9" y1="496" x2="42.4" y2="496" stroke="#000" stroke-width="1.3"/>
<text x="36" y="499.4" font-size="9.6" font-weight="bold" text-anchor="end" fill="#111">25</text>
<line x1="41.6" y1="623.8" x2="234.6" y2="623.8" stroke="#000" stroke-width="1.6"/>
<line x1="42.4" y1="623.8" x2="42.4" y2="629.4" stroke="#000" stroke-width="1.3"/>
<text x="42.4" y="640.3" font-size="9.6" font-weight="bold" text-anchor="middle" fill="#111">0</text>
<line x1="69.84" y1="623.8" x2="69.84" y2="629.4" stroke="#000" stroke-width="1.3"/>
<text x="69.84" y="640.3" font-size="9.6" font-weight="bold" text-anchor="middle" fill="#111">50</text>
<line x1="97.28" y1="623.8" x2="97.28" y2="629.4" stroke="#000" stroke-width="1.3"/>
<text x="97.28" y="640.3" font-size="9.6" font-weight="bold" text-anchor="middle" fill="#111">100</text>
<line x1="124.72" y1="623.8" x2="124.72" y2="629.4" stroke="#000" stroke-width="1.3"/>
<text x="124.72" y="640.3" font-size="9.6" font-weight="bold" text-anchor="middle" fill="#111">150</text>
<line x1="152.16" y1="623.8" x2="152.16" y2="629.4" stroke="#000" stroke-width="1.3"/>
<text x="152.16" y="640.3" font-size="9.6" font-weight="bold" text-anchor="middle" fill="#111">200</text>
<line x1="179.6" y1="623.8" x2="179.6" y2="629.4" stroke="#000" stroke-width="1.3"/>
<text x="179.6" y="640.3" font-size="9.6" font-weight="bold" text-anchor="middle" fill="#111">250</text>
<line x1="207.04" y1="623.8" x2="207.04" y2="629.4" stroke="#000" stroke-width="1.3"/>
<text x="207.04" y="640.3" font-size="9.6" font-weight="bold" text-anchor="middle" fill="#111">300</text>
<line x1="234.48" y1="623.8" x2="234.48" y2="629.4" stroke="#000" stroke-width="1.3"/>
<text x="234.48" y="640.3" font-size="9.6" font-weight="bold" text-anchor="middle" fill="#111">350</text>
<text x="138.3" y="657.7" font-size="9.3" font-weight="bold" text-anchor="middle" fill="#111">Number of days from 6th February</text>
<text transform="translate(19.3,559.8) rotate(-90)" font-size="9.4" font-weight="bold" text-anchor="middle" fill="#111">Number of people(×10<tspan font-size="6.6" dy="-4.0">4</tspan><tspan dy="4.0">)</tspan></text>
<path d="M71.3,623.8 C71.97,623.18 73.42,621.5 75.3,620.1 C77.18,618.7 80.17,616.97 82.6,615.4 C85.03,613.83 88.08,611.92 89.9,610.7 C91.72,609.48 92.28,609.2 93.5,608.1 C94.72,607 95.98,605.32 97.2,604.1 C98.42,602.88 99.58,601.72 100.8,600.8 C102.02,599.88 102.67,599.63 104.5,598.6 C106.33,597.57 109.55,595.83 111.8,594.6 C114.05,593.37 114.43,593.23 118,591.2 C121.57,589.17 127.62,585.38 133.2,582.4 C138.78,579.42 145.42,575.95 151.5,573.3 C157.58,570.65 163.62,568.38 169.7,566.5 C175.78,564.62 181.92,563.15 188,562 C194.08,560.85 200.12,560.23 206.2,559.6 C212.28,558.97 219.77,558.47 224.5,558.2 C229.23,557.93 232.92,558.03 234.6,558" fill="none" stroke="#ee8b26" stroke-width="1.55" stroke-linejoin="round"/>
<path d="M71.3,623.8 C71.97,623.07 73.42,620.98 75.3,619.4 C77.18,617.82 80.17,616 82.6,614.3 C85.03,612.6 88.08,610.53 89.9,609.2 C91.72,607.87 92.28,607.58 93.5,606.3 C94.72,605.02 95.98,603.08 97.2,601.5 C98.42,599.92 99.58,598.13 100.8,596.8 C102.02,595.47 102.67,594.83 104.5,593.5 C106.33,592.17 109.55,590.2 111.8,588.8 C114.05,587.4 114.43,587.08 118,585.1 C121.57,583.12 127.62,579.78 133.2,576.9 C138.78,574.02 145.42,570.43 151.5,567.8 C157.58,565.17 163.62,563.02 169.7,561.1 C175.78,559.18 181.92,557.62 188,556.3 C194.08,554.98 200.12,554.02 206.2,553.2 C212.28,552.38 219.77,551.8 224.5,551.4 C229.23,551 232.92,550.9 234.6,550.8" fill="none" stroke="#2a8a2e" stroke-width="1.55" stroke-linejoin="round"/>
<path d="M42.5,623.8 C47.42,623.8 66.42,623.87 72,623.8 C77.58,623.73 73.63,623.7 76,623.4 C78.37,623.1 82.67,622.55 86.2,622 C89.73,621.45 93.55,620.65 97.2,620.1 C100.85,619.55 104.63,619.03 108.1,618.7 C111.57,618.37 114.35,618.27 118,618.1 C121.65,617.93 126.33,617.82 130,617.7 C133.67,617.58 136,617.5 140,617.4 C144,617.3 147.67,617.18 154,617.1 C160.33,617.02 164.57,616.95 178,616.9 C191.43,616.85 225.17,616.82 234.6,616.8" fill="none" stroke="#2a86e2" stroke-width="1.55" stroke-linejoin="round"/>
<line x1="66.05" y1="496.6" x2="66.05" y2="621" stroke="#e0393d" stroke-width="2" stroke-dasharray="3.8 2.5"/>
<path d="M69.3,498.7 L78.1,494.8 L78.1,502.6 Z" fill="#e8141c"/>
<line x1="77.6" y1="498.7" x2="87" y2="498.7" stroke="#e8141c" stroke-width="1.8"/>
<rect x="93.1" y="490.1" width="61.6" height="16.1" fill="#fff" stroke="#1e1e1e" stroke-width="1.6"/>
<text x="95.4" y="502" font-size="10.5" font-weight="normal" text-anchor="start" fill="#d42a2a">the 46th day</text>
<line x1="239.2" y1="497.3" x2="252.7" y2="497.3" stroke="#2a86e2" stroke-width="1.8"/>
<text x="260.6" y="500.8" font-size="9.2" font-weight="normal" text-anchor="start" fill="#222">London-Sup</text>
<line x1="239.2" y1="515" x2="252.7" y2="515" stroke="#ee8b26" stroke-width="1.8"/>
<text x="260.6" y="518.5" font-size="9.2" font-weight="normal" text-anchor="start" fill="#222">non London-Rolling</text>
<line x1="239.2" y1="531.9" x2="252.7" y2="531.9" stroke="#2a8a2e" stroke-width="1.8"/>
<text x="260.6" y="535.4" font-size="9.2" font-weight="normal" text-anchor="start" fill="#222">UK</text>
<text x="381.6" y="477.3" font-size="16.8" font-weight="normal" text-anchor="start" fill="#111">f</text>
<text x="485.3" y="479.3" font-size="12.8" font-weight="bold" text-anchor="middle" fill="#111">Death</text>
<line x1="389.2" y1="495.3" x2="389.2" y2="624.6" stroke="#000" stroke-width="1.6"/>
<line x1="383.7" y1="623.8" x2="389.2" y2="623.8" stroke="#000" stroke-width="1.3"/>
<text x="382.8" y="627.2" font-size="9.6" font-weight="bold" text-anchor="end" fill="#111">0</text>
<line x1="383.7" y1="598.24" x2="389.2" y2="598.24" stroke="#000" stroke-width="1.3"/>
<text x="382.8" y="601.64" font-size="9.6" font-weight="bold" text-anchor="end" fill="#111">5</text>
<line x1="383.7" y1="572.68" x2="389.2" y2="572.68" stroke="#000" stroke-width="1.3"/>
<text x="382.8" y="576.08" font-size="9.6" font-weight="bold" text-anchor="end" fill="#111">10</text>
<line x1="383.7" y1="547.12" x2="389.2" y2="547.12" stroke="#000" stroke-width="1.3"/>
<text x="382.8" y="550.52" font-size="9.6" font-weight="bold" text-anchor="end" fill="#111">15</text>
<line x1="383.7" y1="521.56" x2="389.2" y2="521.56" stroke="#000" stroke-width="1.3"/>
<text x="382.8" y="524.96" font-size="9.6" font-weight="bold" text-anchor="end" fill="#111">20</text>
<line x1="383.7" y1="496" x2="389.2" y2="496" stroke="#000" stroke-width="1.3"/>
<text x="382.8" y="499.4" font-size="9.6" font-weight="bold" text-anchor="end" fill="#111">25</text>
<line x1="388.4" y1="623.8" x2="581.4" y2="623.8" stroke="#000" stroke-width="1.6"/>
<line x1="389.2" y1="623.8" x2="389.2" y2="629.4" stroke="#000" stroke-width="1.3"/>
<text x="389.2" y="640.3" font-size="9.6" font-weight="bold" text-anchor="middle" fill="#111">0</text>
<line x1="416.64" y1="623.8" x2="416.64" y2="629.4" stroke="#000" stroke-width="1.3"/>
<text x="416.64" y="640.3" font-size="9.6" font-weight="bold" text-anchor="middle" fill="#111">50</text>
<line x1="444.08" y1="623.8" x2="444.08" y2="629.4" stroke="#000" stroke-width="1.3"/>
<text x="444.08" y="640.3" font-size="9.6" font-weight="bold" text-anchor="middle" fill="#111">100</text>
<line x1="471.52" y1="623.8" x2="471.52" y2="629.4" stroke="#000" stroke-width="1.3"/>
<text x="471.52" y="640.3" font-size="9.6" font-weight="bold" text-anchor="middle" fill="#111">150</text>
<line x1="498.96" y1="623.8" x2="498.96" y2="629.4" stroke="#000" stroke-width="1.3"/>
<text x="498.96" y="640.3" font-size="9.6" font-weight="bold" text-anchor="middle" fill="#111">200</text>
<line x1="526.4" y1="623.8" x2="526.4" y2="629.4" stroke="#000" stroke-width="1.3"/>
<text x="526.4" y="640.3" font-size="9.6" font-weight="bold" text-anchor="middle" fill="#111">250</text>
<line x1="553.84" y1="623.8" x2="553.84" y2="629.4" stroke="#000" stroke-width="1.3"/>
<text x="553.84" y="640.3" font-size="9.6" font-weight="bold" text-anchor="middle" fill="#111">300</text>
<line x1="581.28" y1="623.8" x2="581.28" y2="629.4" stroke="#000" stroke-width="1.3"/>
<text x="581.28" y="640.3" font-size="9.6" font-weight="bold" text-anchor="middle" fill="#111">350</text>
<text x="485.1" y="657.7" font-size="9.3" font-weight="bold" text-anchor="middle" fill="#111">Number of days from 6th February</text>
<text transform="translate(366.1,559.8) rotate(-90)" font-size="9.4" font-weight="bold" text-anchor="middle" fill="#111">Number of people(×10<tspan font-size="6.6" dy="-4.0">4</tspan><tspan dy="4.0">)</tspan></text>
<path d="M418.3,623.8 C418.97,623.17 420.42,621.4 422.3,620 C424.18,618.6 427.17,616.95 429.6,615.4 C432.03,613.85 435.08,611.98 436.9,610.7 C438.72,609.42 439.28,608.87 440.5,607.7 C441.72,606.53 442.98,604.92 444.2,603.7 C445.42,602.48 446.58,601.32 447.8,600.4 C449.02,599.48 449.67,599.23 451.5,598.2 C453.33,597.17 456.5,595.63 458.8,594.2 C461.1,592.77 461.73,591.78 465.3,589.6 C468.87,587.42 474.67,584.05 480.2,581.1 C485.73,578.15 492.42,574.5 498.5,571.9 C504.58,569.3 510.62,567.23 516.7,565.5 C522.78,563.77 528.92,562.55 535,561.5 C541.08,560.45 547.12,559.8 553.2,559.2 C559.28,558.6 566.77,558.15 571.5,557.9 C576.23,557.65 579.92,557.73 581.6,557.7" fill="none" stroke="#ee8b26" stroke-width="1.55" stroke-linejoin="round"/>
<path d="M418.3,623.8 C418.97,623 420.42,620.58 422.3,619 C424.18,617.42 427.17,615.93 429.6,614.3 C432.03,612.67 435.08,610.6 436.9,609.2 C438.72,607.8 439.28,607.37 440.5,605.9 C441.72,604.43 442.98,602.1 444.2,600.4 C445.42,598.7 446.58,597.03 447.8,595.7 C449.02,594.37 449.67,593.87 451.5,592.4 C453.33,590.93 456.55,588.48 458.8,586.9 C461.05,585.32 461.43,585.08 465,582.9 C468.57,580.72 474.62,577 480.2,573.8 C485.78,570.6 492.42,566.65 498.5,563.7 C504.58,560.75 510.62,558.28 516.7,556.1 C522.78,553.92 528.92,552.07 535,550.6 C541.08,549.13 547.12,548.15 553.2,547.3 C559.28,546.45 566.77,545.9 571.5,545.5 C576.23,545.1 579.92,545 581.6,544.9" fill="none" stroke="#2a8a2e" stroke-width="1.55" stroke-linejoin="round"/>
<path d="M389.3,623.8 C394.42,623.8 414.13,623.88 420,623.8 C425.87,623.72 422.3,623.67 424.5,623.3 C426.7,622.93 429.92,622.3 433.2,621.6 C436.48,620.9 441.15,619.77 444.2,619.1 C447.25,618.43 448.53,618.07 451.5,617.6 C454.47,617.13 457.22,616.95 462,616.3 C466.78,615.65 474.12,614.38 480.2,613.7 C486.28,613.02 492.42,612.57 498.5,612.2 C504.58,611.83 510.62,611.72 516.7,611.5 C522.78,611.28 528.92,611.02 535,610.9 C541.08,610.78 545.43,610.82 553.2,610.8 C560.97,610.78 576.87,610.8 581.6,610.8" fill="none" stroke="#2a86e2" stroke-width="1.55" stroke-linejoin="round"/>
<line x1="413.2" y1="496.6" x2="413.2" y2="621" stroke="#e0393d" stroke-width="2" stroke-dasharray="3.8 2.5"/>
<path d="M416.3,504 L425.1,500.1 L425.1,507.9 Z" fill="#e8141c"/>
<line x1="424.6" y1="504" x2="432.8" y2="504" stroke="#e8141c" stroke-width="1.8"/>
<rect x="437.4" y="496.8" width="61.4" height="16.7" fill="#fff" stroke="#1e1e1e" stroke-width="1.6"/>
<text x="439.7" y="508.7" font-size="10.5" font-weight="normal" text-anchor="start" fill="#d42a2a">the 46th day</text>
<line x1="587" y1="497" x2="600.7" y2="497" stroke="#2a86e2" stroke-width="1.8"/>
<text x="608.7" y="500.5" font-size="9.2" font-weight="normal" text-anchor="start" fill="#222">London-Rolling</text>
<line x1="587" y1="514.7" x2="600.7" y2="514.7" stroke="#ee8b26" stroke-width="1.8"/>
<text x="608.7" y="518.2" font-size="9.2" font-weight="normal" text-anchor="start" fill="#222">non Lon-Rolling</text>
<line x1="587" y1="532" x2="600.7" y2="532" stroke="#2a8a2e" stroke-width="1.8"/>
<text x="608.7" y="535.5" font-size="9.2" font-weight="normal" text-anchor="start" fill="#222">UK-Rolling</text>
</svg></body></html>
